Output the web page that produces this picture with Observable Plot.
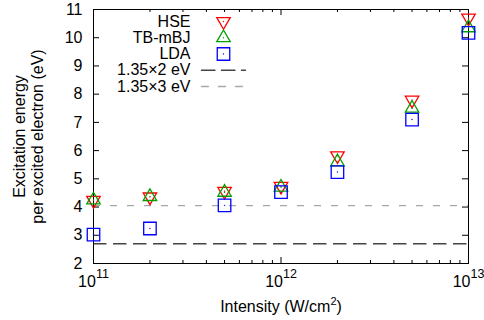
<!DOCTYPE html>
<html>
<head>
<meta charset="utf-8">
<script src="https://cdn.jsdelivr.net/npm/d3@7"></script>
<script src="https://cdn.jsdelivr.net/npm/@observablehq/plot@0.6"></script>
<style>
  html, body { margin: 0; padding: 0; background: #fff; }
  svg { display: block; }
</style>
</head>
<body>
<div id="chart"></div>
<script>
// Laser intensity (W/cm^2)
const intensity = [1e11, 2e11, 5e11, 1e12, 2e12, 5e12, 1e13];
// Excitation energy per excited electron (eV)
const hse   = [4.24, 4.36, 4.56, 4.74, 5.82, 7.79, 10.70];
const tbmbj = [4.25, 4.37, 4.52, 4.70, 5.60, 7.50, 10.35];
const lda   = [3.02, 3.24, 4.06, 4.53, 5.24, 7.10, 10.17];

const seriesNames  = ["HSE", "TB-mBJ", "LDA"];
const seriesColors = ["#ff0000", "#00a000", "#0000ff"];

// photon energy and multi-photon reference levels
const photonEnergy = 1.35;
const photonCounts = [2, 3];
const refLabels = ["1.35×2 eV", "1.35×3 eV"];

const yTicks = [2, 3, 4, 5, 6, 7, 8, 9, 10, 11];
const xTicks = [1e11, 1e12, 1e13];
const xMinorTicks = [2e11, 3e11, 4e11, 5e11, 6e11, 7e11, 8e11, 9e11,
                     2e12, 3e12, 4e12, 5e12, 6e12, 7e12, 8e12, 9e12];

const xTitle = "Intensity (W/cm2)";

const W = 484, H = 320;
const mL = 93, mR = 16, mT = 9, mB = 57;
const plotW = W - mL - mR, plotH = H - mT - mB;

const triangleDown = {
  draw(ctx, size) {
    const y = -Math.sqrt(size / (3 * Math.sqrt(3)));
    ctx.moveTo(0, -2 * y);
    ctx.lineTo(Math.sqrt(3) * y, y);
    ctx.lineTo(-Math.sqrt(3) * y, y);
    ctx.closePath();
  }
};
const lineShape = {
  draw(ctx, l) { ctx.moveTo(0, 0); ctx.lineTo(0, -l); }
};

const series = [
  {name: "HSE", values: hse, symbol: triangleDown, r: 5},
  {name: "TB-mBJ", values: tbmbj, symbol: "triangle", r: 5},
  {name: "LDA", values: lda, symbol: "square", r: 7.05}
].map((s, i) => ({...s, color: seriesColors[i],
  data: intensity.map((x, j) => ({x, y: s.values[j]}))}));

const refLines = photonCounts.map((n, i) => ({
  y: photonEnergy * n, label: refLabels[i],
  stroke: i === 0 ? "#444444" : "#a8a8a8",
  dash: i === 0 ? "13.5,6.5" : "7,10"
}));

const legendRowY = [21, 37.25, 53.5, 69.75, 86];
const legendTextX = 97, legendSymX = 130, legendLineX = 108, legendLineLen = 44;

const marks = [];

// reference levels
refLines.forEach(r => {
  marks.push(Plot.ruleY([r.y], {stroke: r.stroke, strokeWidth: 1.4, strokeDasharray: r.dash}));
});

// frame and inward ticks
marks.push(Plot.frame({stroke: "#000", strokeWidth: 1}));
marks.push(Plot.tickY(yTicks, {y: d => d, insetRight: plotW - 6, stroke: "#000"}));
marks.push(Plot.tickY(yTicks, {y: d => d, insetLeft: plotW - 6, stroke: "#000"}));
marks.push(Plot.tickX(xTicks, {x: d => d, insetTop: plotH - 6, stroke: "#000"}));
marks.push(Plot.tickX(xTicks, {x: d => d, insetBottom: plotH - 6, stroke: "#000"}));
marks.push(Plot.tickX(xMinorTicks, {x: d => d, insetTop: plotH - 3, stroke: "#000"}));
marks.push(Plot.tickX(xMinorTicks, {x: d => d, insetBottom: plotH - 3, stroke: "#000"}));

// axes labels
marks.push(Plot.axisY(yTicks, {tickSize: 0, tickPadding: 11, fontSize: 16, label: null}));
marks.push(Plot.axisX(xTicks, {tickSize: 0, tickPadding: 12, fontSize: 16, label: null,
  tickFormat: d => String(Math.round(Math.log10(d)))}));

// data points
series.forEach(s => {
  marks.push(Plot.dot(s.data, {x: "x", y: "y", symbol: s.symbol, r: s.r,
    stroke: s.color, strokeWidth: 1.3, fill: "none"}));
  marks.push(Plot.dot(s.data, {x: "x", y: "y", r: 0.7, fill: s.color, stroke: "none"}));
});

// legend
series.forEach((s, i) => {
  marks.push(Plot.text([s.name], {frameAnchor: "top-left", dx: legendTextX, dy: legendRowY[i] - mT,
    textAnchor: "end", lineAnchor: "middle", fontSize: 16, fill: "#000"}));
  marks.push(Plot.dot([s.name], {x: null, y: null, frameAnchor: "top-left",
    dx: legendSymX, dy: legendRowY[i] - mT, symbol: s.symbol, r: s.r,
    stroke: s.color, strokeWidth: 1.3, fill: "none"}));
  marks.push(Plot.dot([s.name], {x: null, y: null, frameAnchor: "top-left",
    dx: legendSymX, dy: legendRowY[i] - mT, r: 0.7, fill: s.color, stroke: "none"}));
});
refLines.forEach((r, i) => {
  const row = legendRowY[series.length + i];
  marks.push(Plot.text([r.label], {frameAnchor: "top-left", dx: legendTextX, dy: row - mT,
    textAnchor: "end", lineAnchor: "middle", fontSize: 16, fill: "#000"}));
  marks.push(Plot.vector([r.label], {x: null, y: null, frameAnchor: "top-left",
    dx: legendLineX, dy: row - mT, length: legendLineLen, rotate: 90, anchor: "start",
    shape: lineShape, stroke: r.stroke, strokeWidth: 1.4, strokeDasharray: r.dash}));
});

// axis titles
marks.push(Plot.text(["Excitation energy\nper excited electron (eV)"], {
  frameAnchor: "left", rotate: -90, dx: -65.25, textAnchor: "middle", lineAnchor: "middle",
  lineHeight: 1.16, fontSize: 16, fill: "#000"}));
marks.push(Plot.text([xTitle], {
  frameAnchor: "bottom", dy: 43, textAnchor: "middle", lineAnchor: "middle",
  fontSize: 16, fill: "#000"}));

const svg = Plot.plot({
  width: W, height: H,
  marginLeft: mL, marginRight: mR, marginTop: mT, marginBottom: mB,
  style: {fontFamily: "'Liberation Sans', Arial, sans-serif", fontSize: "16px", color: "#000", background: "#fff"},
  x: {type: "log", domain: [1e11, 1e13], axis: null},
  y: {domain: [2, 11], axis: null},
  marks
});

// superscript exponents on the decade labels
const NS = "http://www.w3.org/2000/svg";
svg.querySelectorAll('g[aria-label="x-axis tick label"] text').forEach(t => {
  const exp = t.textContent;
  t.textContent = "10";
  const sup = document.createElementNS(NS, "tspan");
  sup.setAttribute("dy", "-9");
  sup.setAttribute("font-size", "12.5");
  sup.textContent = exp;
  t.appendChild(sup);
});

// squared unit in the intensity title
svg.querySelectorAll("text").forEach(t => {
  if (t.textContent !== xTitle) return;
  t.textContent = "Intensity (W/cm";
  const sup = document.createElementNS(NS, "tspan");
  sup.setAttribute("dy", "-7");
  sup.setAttribute("font-size", "11");
  sup.textContent = "2";
  const close = document.createElementNS(NS, "tspan");
  close.setAttribute("dy", "7");
  close.textContent = ")";
  t.appendChild(sup);
  t.appendChild(close);
});

document.getElementById("chart").appendChild(svg);
</script>
</body>
</html>
